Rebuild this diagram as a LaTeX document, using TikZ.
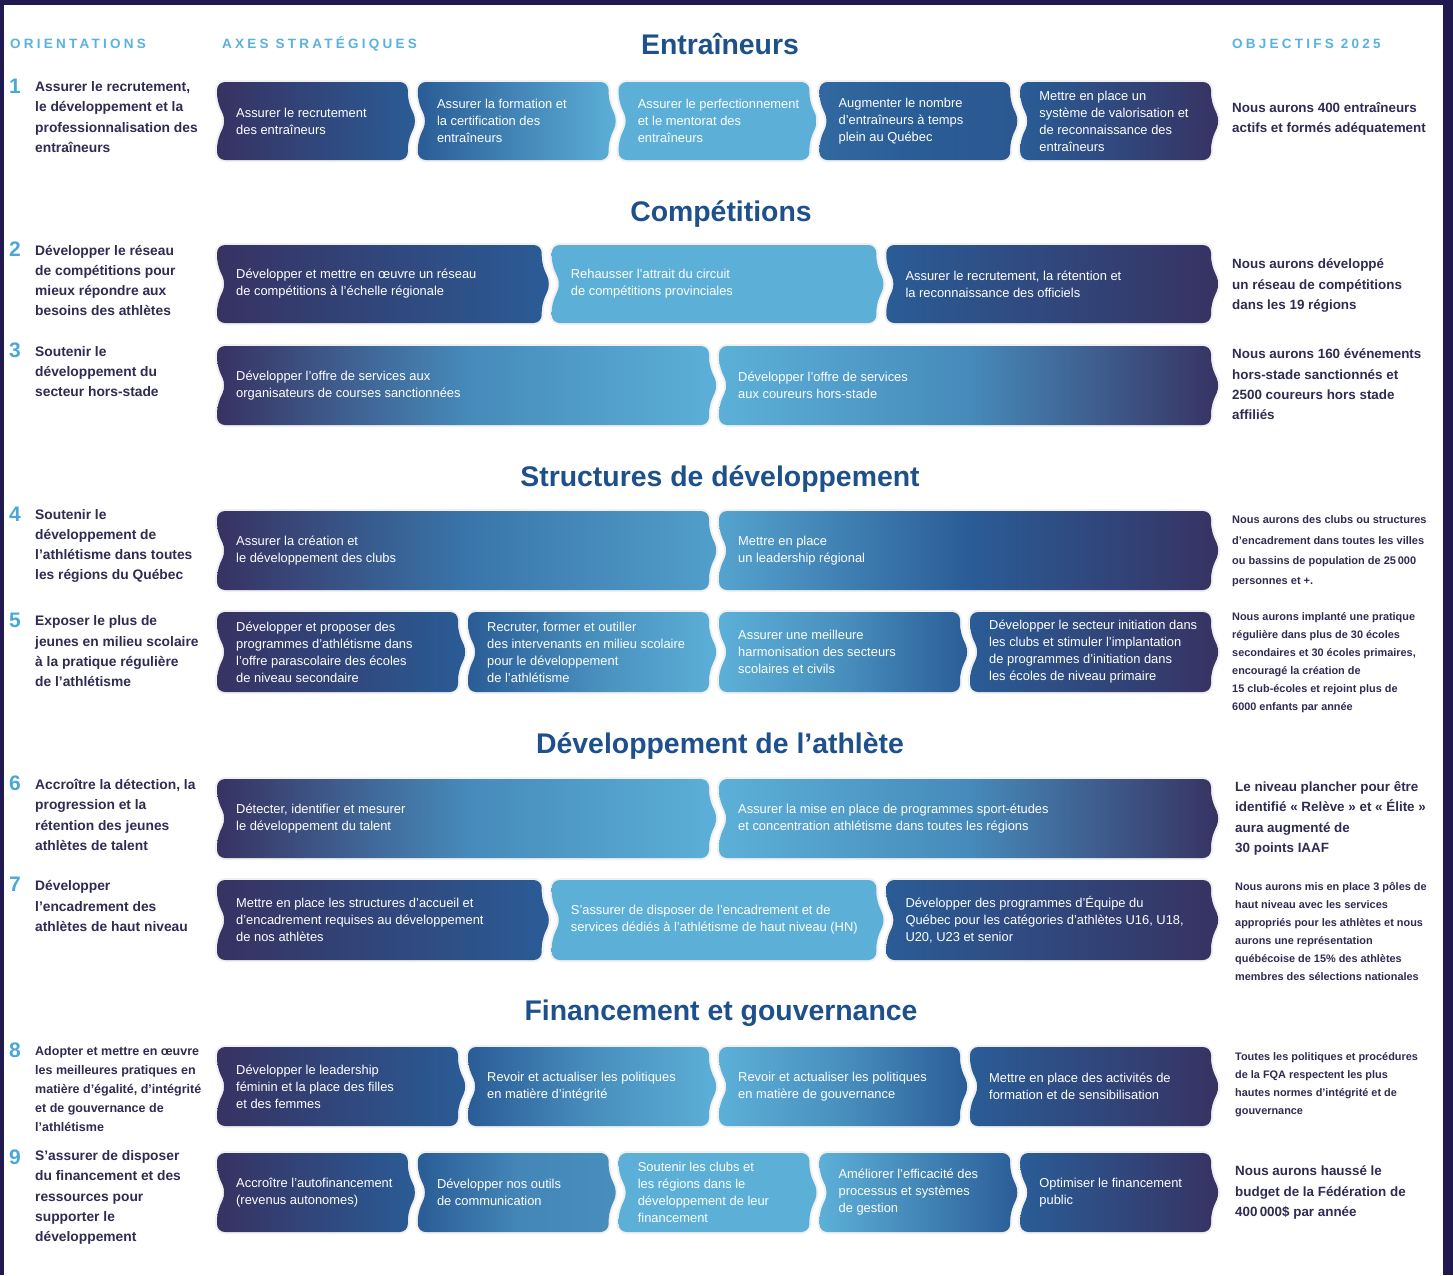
\documentclass[tikz,border=0pt]{standalone}
\usepackage{fontspec}
\setmainfont{Liberation Sans}
\definecolor{cFrame}{RGB}{32,26,80}
\definecolor{cD}{RGB}{55,50,98}
\definecolor{cM}{RGB}{42,92,150}
\definecolor{cL}{RGB}{92,176,216}
\definecolor{cText}{RGB}{47,44,82}
\definecolor{cTitle}{RGB}{30,80,140}
\definecolor{cHead}{RGB}{90,178,220}
\definecolor{cNum}{RGB}{75,168,214}
\tikzset{
  halo/.style={draw=black!6, line width=4pt, rounded corners=8pt, line join=round},
  chevfill/.style={rounded corners=8pt},
  boxtext/.style={anchor=west, inner sep=0pt, align=left, text=white, font=\fontsize{12.9}{17}\selectfont},
  orient/.style={anchor=west, inner sep=0pt, align=left, text=cText, font=\bfseries\fontsize{13.8}{20.3}\selectfont},
  orientsm/.style={anchor=west, inner sep=0pt, align=left, text=cText, font=\bfseries\fontsize{12.5}{19}\selectfont},
  num/.style={anchor=west, inner sep=0pt, text=cNum, font=\bfseries\fontsize{21}{21}\selectfont},
  objbig/.style={anchor=west, inner sep=0pt, align=left, text=cText, font=\bfseries\fontsize{13.4}{20.3}\selectfont},
  objmid/.style={anchor=west, inner sep=0pt, align=left, text=cText, font=\bfseries\fontsize{11}{20.3}\selectfont},
  objsmall/.style={anchor=west, inner sep=0pt, align=left, text=cText, font=\bfseries\fontsize{10.9}{18}\selectfont},
  sect/.style={inner sep=0pt, text=cTitle, font=\bfseries\fontsize{28.4}{30}\selectfont},
  head/.style={anchor=west, inner sep=0pt, text=cHead, font=\bfseries\fontsize{13.5}{14}\selectfont\addfontfeature{LetterSpace=24}},
}
% #1 name, #2 x0, #3 x1, #4 left colour, #5 middle colour, #6 right colour, #7 text
\newcommand{\chev}[7]{%
  \pgfmathsetmacro{\chevYm}{(\chevYa+\chevYb)/2}%
  \pgfmathsetmacro{\chevYu}{\chevYm-20}%
  \pgfmathsetmacro{\chevYl}{\chevYm+20}%
  \pgfmathsetmacro{\chevXp}{#3+9}%
  \pgfmathsetmacro{\chevXn}{#2+9}%
  \pgfmathsetmacro{\chevXt}{#2+19}%
  \path[halo] (#2,\chevYa) -- (#3,\chevYa) -- (#3,\chevYu) -- (\chevXp,\chevYm) -- (#3,\chevYl) -- (#3,\chevYb) -- (#2,\chevYb) -- (#2,\chevYl) -- (\chevXn,\chevYm) -- (#2,\chevYu) -- cycle;
  \path[chevfill, left color=#4, right color=#6, middle color=#5] (#2,\chevYa) -- (#3,\chevYa) -- (#3,\chevYu) -- (\chevXp,\chevYm) -- (#3,\chevYl) -- (#3,\chevYb) -- (#2,\chevYb) -- (#2,\chevYl) -- (\chevXn,\chevYm) -- (#2,\chevYu) -- cycle;
  \node[boxtext] (#1) at (\chevXt,\chevYm) {#7};
}
\begin{document}
\begin{tikzpicture}[x=1pt,y=-1pt]
\useasboundingbox (0,0) rectangle (1453,1275);
\fill[cFrame] (0,0) rectangle (1453,1275);
\fill[white] (4,5) rectangle (1443,1275);

% headers
\node[head] (hOr) at (10,44) {ORIENTATIONS};
\node[head] (hAx) at (222,44) {AXES STRATÉGIQUES};
\node[head] (hOb) at (1232,44) {OBJECTIFS 2025};

% section titles
\node[sect] (tEnt) at (720,44) {Entraîneurs};
\node[sect] (tComp) at (721,214) {Compétitions};
\node[sect] (tStr) at (720,479) {Structures de développement};
\node[sect] (tAth) at (720,746) {Développement de l’athlète};
\node[sect] (tFin) at (721,1013) {Financement et gouvernance};

% numbers
\node[num] (n1) at (9,86) {1};
\node[num] (n2) at (9,249) {2};
\node[num] (n3) at (9,350) {3};
\node[num] (n4) at (9,514) {4};
\node[num] (n5) at (9,620) {5};
\node[num] (n6) at (9,783) {6};
\node[num] (n7) at (9,884) {7};
\node[num] (n8) at (9,1050) {8};
\node[num] (n9) at (9,1157) {9};

% orientations
\node[orient] (o1) at (35,117) {Assurer le recrutement,\\le développement et la\\professionnalisation des\\entraîneurs};
\node[orient] (o2) at (35,280.5) {Développer le réseau\\de compétitions pour\\mieux répondre aux\\besoins des athlètes};
\node[orient] (o3) at (35,371.5) {Soutenir le\\développement du\\secteur hors-stade};
\node[orient] (o4) at (35,546) {Soutenir le\\développement de\\l’athlétisme dans toutes\\les régions du Québec};
\node[orient] (o5) at (35,651.5) {Exposer le plus de\\jeunes en milieu scolaire\\à la pratique régulière\\de l’athlétisme};
\node[orient] (o6) at (35,815) {Accroître la détection, la\\progression et la\\rétention des jeunes\\athlètes de talent};
\node[orient] (o7) at (35,906) {Développer\\l’encadrement des\\athlètes de haut niveau};
\node[orientsm] (o8) at (35,1089) {Adopter et mettre en œuvre\\les meilleures pratiques en\\matière d’égalité, d’intégrité\\et de gouvernance de\\l’athlétisme};
\node[orient] (o9) at (35,1197.5) {S’assurer de disposer\\du financement et des\\ressources pour\\supporter le\\développement};

% row 1
\def\chevYa{82}\def\chevYb{160}
\chev{r1a}{217}{407.8}{cD}{cD!50!cM}{cM}{Assurer le recrutement\\des entraîneurs}
\chev{r1b}{417.8}{608.6}{cM}{cM!50!cL}{cL}{Assurer la formation et\\la certification des\\entraîneurs}
\chev{r1c}{618.6}{809.4}{cL}{cL}{cL}{Assurer le perfectionnement\\et le mentorat des\\entraîneurs}
\chev{r1d}{819.4}{1010.2}{cM!85!cL}{cM}{cM!90!cD}{Augmenter le nombre\\d’entraîneurs à temps\\plein au Québec}
\chev{r1e}{1020.2}{1211}{cM}{cM!50!cD}{cD}{Mettre en place un\\système de valorisation et\\de reconnaissance des\\entraîneurs}

% row 2
\def\chevYa{245}\def\chevYb{323}
\chev{r2a}{217}{541.7}{cD}{cD!50!cM}{cM}{Développer et mettre en œuvre un réseau\\de compétitions à l’échelle régionale}
\chev{r2b}{551.7}{876.3}{cL}{cL}{cL}{Rehausser l’attrait du circuit\\de compétitions provinciales}
\chev{r2c}{886.3}{1211}{cM}{cM!50!cD}{cD}{Assurer le recrutement, la rétention et\\la reconnaissance des officiels}

% row 3
\def\chevYa{346}\def\chevYb{425}
\chev{r3a}{217}{709}{cD}{cM!45!cL}{cL}{Développer l’offre de services aux\\organisateurs de courses sanctionnées}
\chev{r3b}{719}{1211}{cL}{cL!55!cM}{cD}{Développer l’offre de services\\aux coureurs hors-stade}

% row 4
\def\chevYa{511}\def\chevYb{590}
\chev{r4a}{217}{709}{cD}{cM!70!cL}{cL!80!cM}{Assurer la création et\\le développement des clubs}
\chev{r4b}{719}{1211}{cL!85!cM}{cM}{cD}{Mettre en place\\un leadership régional}

% row 5
\def\chevYa{612}\def\chevYb{692}
\chev{r5a}{217}{458}{cD}{cD!50!cM}{cM}{Développer et proposer des\\programmes d’athlétisme dans\\l’offre parascolaire des écoles\\de niveau secondaire}
\chev{r5b}{468}{709}{cM}{cM!40!cL}{cL}{Recruter, former et outiller\\des intervenants en milieu scolaire\\pour le développement\\de l’athlétisme}
\chev{r5c}{719}{960}{cL}{cL!60!cM}{cM}{Assurer une meilleure\\harmonisation des secteurs\\scolaires et civils}
\chev{r5d}{970}{1211}{cM}{cM!50!cD}{cD}{Développer le secteur initiation dans\\les clubs et stimuler l’implantation\\de programmes d’initiation dans\\les écoles de niveau primaire}

% row 6
\def\chevYa{779}\def\chevYb{858}
\chev{r6a}{217}{709}{cD}{cM!45!cL}{cL}{Détecter, identifier et mesurer\\le développement du talent}
\chev{r6b}{719}{1211}{cL}{cL!55!cM}{cD}{Assurer la mise en place de programmes sport-études\\et concentration athlétisme dans toutes les régions}

% row 7
\def\chevYa{880}\def\chevYb{960}
\chev{r7a}{217}{541.7}{cD}{cD!50!cM}{cM}{Mettre en place les structures d’accueil et\\d’encadrement requises au développement\\de nos athlètes}
\chev{r7b}{551.7}{876.3}{cL}{cL}{cL}{S’assurer de disposer de l’encadrement et de\\services dédiés à l’athlétisme de haut niveau (HN)}
\chev{r7c}{886.3}{1211}{cM}{cM!50!cD}{cD}{Développer des programmes d’Équipe du\\Québec pour les catégories d’athlètes U16, U18,\\U20, U23 et senior}

% row 8
\def\chevYa{1047}\def\chevYb{1126}
\chev{r8a}{217}{458}{cD}{cD!50!cM}{cM}{Développer le leadership\\féminin et la place des filles\\et des femmes}
\chev{r8b}{468}{709}{cM}{cM!40!cL}{cL}{Revoir et actualiser les politiques\\en matière d’intégrité}
\chev{r8c}{719}{960}{cL}{cL!60!cM}{cM}{Revoir et actualiser les politiques\\en matière de gouvernance}
\chev{r8d}{970}{1211}{cM}{cM!50!cD}{cD}{Mettre en place des activités de\\formation et de sensibilisation}

% row 9
\def\chevYa{1153}\def\chevYb{1232}
\chev{r9a}{217}{407.8}{cD}{cD!50!cM}{cM}{Accroître l’autofinancement\\(revenus autonomes)}
\chev{r9b}{417.8}{608.6}{cM}{cM!50!cL}{cM!40!cL}{Développer nos outils\\de communication}
\chev{r9c}{618.6}{809.4}{cL}{cL}{cL}{Soutenir les clubs et\\les régions dans le\\développement de leur\\financement}
\chev{r9d}{819.4}{1010.2}{cL}{cL!50!cM}{cM}{Améliorer l’efficacité des\\processus et systèmes\\de gestion}
\chev{r9e}{1020.2}{1211}{cM}{cM!50!cD}{cD}{Optimiser le financement\\public}

% objectives
\node[objbig] (g1) at (1232,119) {Nous aurons 400 entraîneurs\\actifs et formés adéquatement};
\node[objbig] (g2) at (1232,285.5) {Nous aurons développé\\un réseau de compétitions\\dans les 19 régions};
\node[objbig] (g3) at (1232,384.5) {Nous aurons 160 événements\\hors-stade sanctionnés et\\2500 coureurs hors stade\\affiliés};
\node[objmid] (g4) at (1232,551.5) {Nous aurons des clubs ou structures\\d’encadrement dans toutes les villes\\ou bassins de population de 25\,000\\personnes et +.};
\node[objsmall] (g5) at (1232,663) {Nous aurons implanté une pratique\\régulière dans plus de 30 écoles\\secondaires et 30 écoles primaires,\\encouragé la création de\\15 club-écoles et rejoint plus de\\6000 enfants par année};
\node[objbig] (g6) at (1235,818.5) {Le niveau plancher pour être\\identifié «~Relève~» et «~Élite~»\\aura augmenté de\\30 points IAAF};
\node[objsmall] (g7) at (1235,931) {Nous aurons mis en place 3 pôles de\\haut niveau avec les services\\appropriés pour les athlètes et nous\\aurons une représentation\\québécoise de 15\% des athlètes\\membres des sélections nationales};
\node[objsmall] (g8) at (1235,1085) {Toutes les politiques et procédures\\de la FQA respectent les plus\\hautes normes d’intégrité et de\\gouvernance};
\node[objbig] (g9) at (1235,1192.5) {Nous aurons haussé le\\budget de la Fédération de\\400\,000\$ par année};
\end{tikzpicture}
\end{document}
